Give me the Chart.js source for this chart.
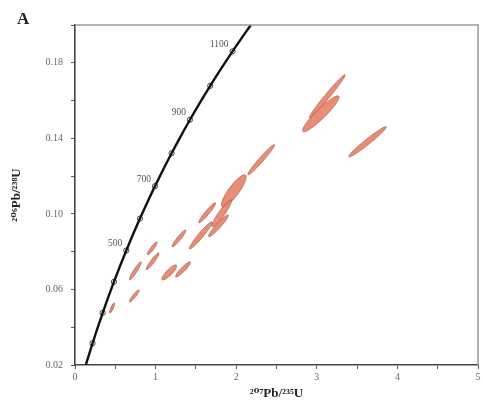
<!DOCTYPE html>
<html>
<head>
<meta charset="utf-8">
<script src="https://cdn.jsdelivr.net/npm/chart.js@4"></script>
<style>
html,body{margin:0;padding:0;background:#fff;}
#wrap{width:483px;height:409px;position:relative;}
</style>
</head>
<body>
<div id="wrap"><canvas id="c" width="483" height="409"></canvas></div>
<script>
// Concordia curve (ages in Ma, 207Pb/235U, 206Pb/238U)
const concordiaAge = [128,150,200,250,300,350,400,450,500,550,600,650,700,750,800,850,900,950,1000,1050,1100,1150,1175];
const concordiaX = [0.1344,0.1592,0.2177,0.2792,0.3437,0.4116,0.4828,0.5577,0.6363,0.7189,0.8056,0.8967,0.9925,1.0931,1.1987,1.3097,1.4263,1.5488,1.6774,1.8126,1.9545,2.1037,2.1810];
const concordiaY = [0.02005,0.02354,0.03151,0.03954,0.04764,0.05580,0.06402,0.07230,0.08065,0.08907,0.09754,0.10609,0.11470,0.12338,0.13213,0.14094,0.14983,0.15878,0.16780,0.17690,0.18606,0.19530,0.19994];
// Age markers on concordia
const markerAge = [200,300,400,500,600,700,800,900,1000,1100];
const markerX = [0.2177,0.3437,0.4828,0.6363,0.8056,0.9925,1.1987,1.4263,1.6774,1.9545];
const markerY = [0.03151,0.04764,0.06402,0.08065,0.09754,0.11470,0.13213,0.14983,0.16780,0.18606];
const markerLabels = ['','','','500','','700','','900','','1100'];
// Error ellipses: centre, half-extent in x and y, correlation
const ellX   = [0.46,0.736,0.748,0.963,0.957,1.17,1.34,1.29,1.56,2.31,1.97,1.82,1.64,1.78,3.13,3.05,3.63];
const ellY   = [0.0502,0.0566,0.0698,0.0749,0.0817,0.0690,0.0706,0.0870,0.0886,0.1287,0.1122,0.1003,0.1006,0.0937,0.1623,0.1530,0.1382];
const ellSx  = [0.031,0.061,0.074,0.080,0.061,0.092,0.092,0.086,0.141,0.166,0.153,0.123,0.104,0.123,0.221,0.227,0.233];
const ellSy  = [0.0027,0.0032,0.0048,0.0045,0.0034,0.0040,0.0040,0.0045,0.0072,0.0080,0.0085,0.0072,0.0053,0.0058,0.0114,0.0095,0.0080];
const ellRho = [0.85,0.92,0.94,0.94,0.92,0.86,0.92,0.94,0.96,0.975,0.86,0.93,0.95,0.95,0.985,0.93,0.975];
// Axis ticks
const xLabelTicks = [0,1,2,3,4,5];
const yLabelTicks = [0.02,0.06,0.10,0.14,0.18];

const serif = "'Liberation Serif','DejaVu Serif',serif";

const ellipsePlugin = {
  id: 'ellipses',
  beforeDatasetsDraw(chart) {
    const meta = chart.getDatasetMeta(0);
    const ds = chart.data.datasets[0];
    const xs = chart.scales.x, ys = chart.scales.y;
    const kx = Math.abs(xs.getPixelForValue(1) - xs.getPixelForValue(0));
    const ky = Math.abs(ys.getPixelForValue(0.1) - ys.getPixelForValue(0)) / 0.1;
    const ctx = chart.ctx;
    ctx.save();
    ctx.beginPath();
    ctx.rect(chart.chartArea.left, chart.chartArea.top, chart.chartArea.right - chart.chartArea.left, chart.chartArea.bottom - chart.chartArea.top);
    ctx.clip();
    ds.data.forEach((d, i) => {
      const el = meta.data[i];
      const px = el.x, py = el.y;
      const sxp = d.sx * kx, syp = d.sy * ky;
      const a = sxp * sxp, c = syp * syp, b = -d.rho * sxp * syp;
      const m = (a + c) / 2, r = Math.sqrt(((a - c) / 2) ** 2 + b * b);
      const l1 = m + r, l2 = Math.max(m - r, 0.5);
      const th = 0.5 * Math.atan2(2 * b, a - c);
      ctx.beginPath();
      ctx.ellipse(px, py, Math.sqrt(l1), Math.sqrt(l2), th, 0, Math.PI * 2);
      ctx.fillStyle = 'rgba(232,125,98,0.88)';
      ctx.fill();
      ctx.lineWidth = 0.8;
      ctx.strokeStyle = 'rgba(170,95,88,0.9)';
      ctx.stroke();
    });
    ctx.restore();
  }
};

const decorPlugin = {
  id: 'decor',
  afterDatasetsDraw(chart) {
    const ctx = chart.ctx;
    const ca = chart.chartArea;
    ctx.save();
    // top and right frame
    ctx.strokeStyle = '#9a9a9a';
    ctx.lineWidth = 1.5;
    ctx.beginPath();
    ctx.moveTo(ca.left, ca.top);
    ctx.lineTo(ca.right, ca.top);
    ctx.lineTo(ca.right, ca.bottom);
    ctx.stroke();
    // age labels
    const meta = chart.getDatasetMeta(2);
    ctx.font = '9.5px ' + serif;
    ctx.fillStyle = '#555';
    ctx.textAlign = 'right';
    ctx.textBaseline = 'middle';
    meta.data.forEach((p, i) => {
      const t = markerLabels[i];
      if (t) ctx.fillText(t, p.x - 4, p.y - 7);
    });
    // panel letter
    ctx.font = 'bold 17px ' + serif;
    ctx.fillStyle = '#222';
    ctx.textAlign = 'left';
    ctx.textBaseline = 'alphabetic';
    ctx.fillText('A', 17, 24);
    ctx.restore();
  }
};

new Chart(document.getElementById('c'), {
  type: 'scatter',
  data: {
    datasets: [
      {
        label: 'ellipses',
        data: ellX.map((x, i) => ({x: x, y: ellY[i], sx: ellSx[i], sy: ellSy[i], rho: ellRho[i]})),
        pointRadius: 0,
        pointHoverRadius: 0
      },
      {
        label: 'concordia',
        type: 'line',
        data: concordiaX.map((x, i) => ({x: x, y: concordiaY[i]})),
        borderColor: '#111',
        borderWidth: 2.4,
        pointRadius: 0,
        tension: 0.4,
        cubicInterpolationMode: 'monotone',
        fill: false
      },
      {
        label: 'ages',
        data: markerX.map((x, i) => ({x: x, y: markerY[i]})),
        pointRadius: 2.6,
        pointBackgroundColor: '#fff',
        pointBorderColor: '#444',
        pointBorderWidth: 1
      }
    ]
  },
  options: {
    responsive: false,
    animation: false,
    events: [],
    layout: {padding: {top: 25, right: 1, left: 0, bottom: 0}},
    plugins: {legend: {display: false}, tooltip: {enabled: false}},
    scales: {
      x: {
        type: 'linear',
        min: 0, max: 5,
        afterFit(s) { s.height = 44; },
        ticks: {
          stepSize: 0.5,
          padding: 2,
          color: '#666',
          font: {family: serif, size: 10},
          maxRotation: 0,
          callback: (v) => xLabelTicks.some(t => Math.abs(t - v) < 1e-9) ? String(v) : ''
        },
        grid: {drawOnChartArea: false, drawTicks: true, tickLength: 4, color: '#555'},
        border: {color: '#444', width: 1.6},
        title: {
          display: true,
          text: '²⁰⁷Pb/²³⁵U',
          color: '#222',
          font: {family: serif, size: 13, weight: 'bold'},
          align: 'center',
          padding: {top: 0, bottom: 8}
        }
      },
      y: {
        type: 'linear',
        min: 0.02, max: 0.20,
        afterFit(s) { s.width = 75; },
        ticks: {
          stepSize: 0.02,
          padding: 8,
          color: '#666',
          font: {family: serif, size: 10},
          callback: (v) => yLabelTicks.some(t => Math.abs(t - v) < 1e-9) ? v.toFixed(2) : ''
        },
        grid: {drawOnChartArea: false, drawTicks: true, tickLength: 4, color: '#555'},
        border: {color: '#444', width: 1.6},
        title: {
          display: true,
          text: '²⁰⁶Pb/²³⁸U',
          color: '#222',
          font: {family: serif, size: 13, weight: 'bold'},
          padding: {top: 9, bottom: 0}
        }
      }
    }
  },
  plugins: [ellipsePlugin, decorPlugin]
});
</script>
</body>
</html>
